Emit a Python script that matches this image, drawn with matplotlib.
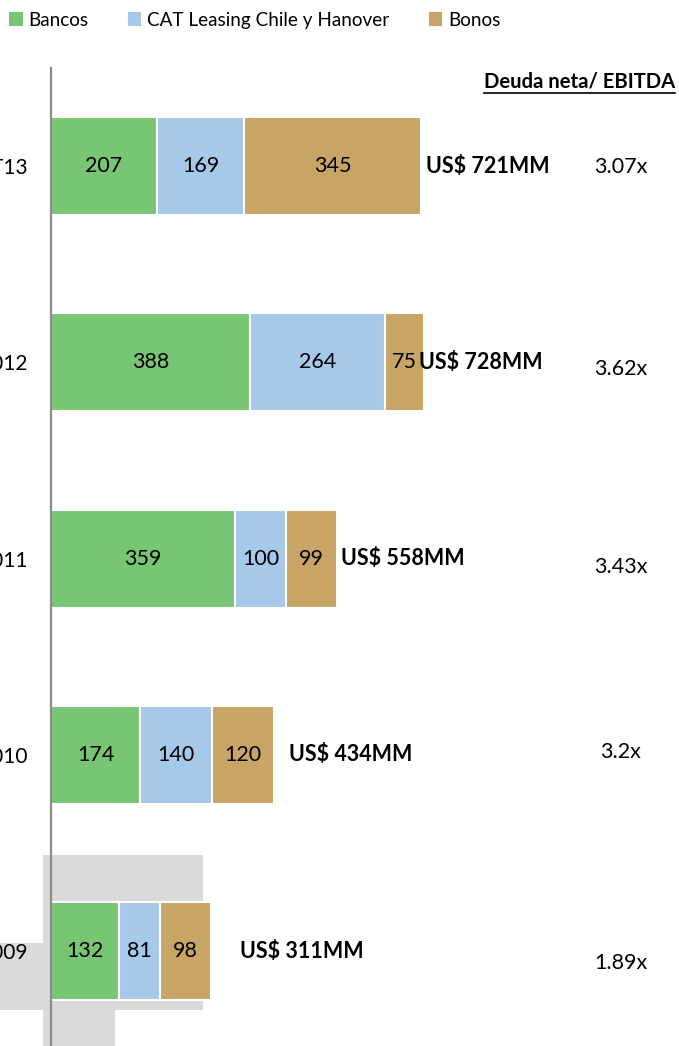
import matplotlib
matplotlib.use("Agg")
from matplotlib import pyplot as plt
from matplotlib.patches import Patch, Polygon
from matplotlib.lines import Line2D

# data (top to bottom)
periods = ["3T13", "2012", "2011", "2010", "2009"]
bancos = [207, 388, 359, 174, 132]
cat_leasing = [169, 264, 100, 140, 81]
bonos = [345, 75, 99, 120, 98]
totals = [721, 728, 558, 434, 311]
deuda_ebitda = ["3.07x", "3.62x", "3.43x", "3.2x", "1.89x"]

series_names = ["Bancos", "CAT Leasing Chile y Hanover", "Bonos"]
colors = ["#78c574", "#a6c9e9", "#c9a467"]

# small layout tweaks (pixels) for the total labels and ratio labels
total_shift = [5, -5, 4, 15, 29]
ratio_shift = [-1, -7, -8, 3, -12]

plt.rcParams['font.family'] = ['Lato', 'DejaVu Sans']

W, H = 679, 1046
fig = plt.figure(figsize=(W / 100, H / 100), dpi=100)
ax = fig.add_axes([51 / W, 0, 1 - 51 / W, 1 - 68 / H])
ax.patch.set_alpha(0)

y = list(range(len(periods)))
left = [0] * len(periods)
for vals, name, col in zip([bancos, cat_leasing, bonos], series_names, colors):
    bars = ax.barh(y, vals, left=left, height=0.5, color=col, edgecolor="white",
                   linewidth=1.5, label=name, zorder=2)
    for b, v in zip(bars, vals):
        ax.text(b.get_x() + b.get_width() / 2, b.get_y() + b.get_height() / 2, str(v),
                ha="center", va="center", fontsize=15.5, color="black", zorder=3)
    left = [l + v for l, v in zip(left, vals)]

ratio_x = (621 - 51) / (W - 51)
for i, tot in enumerate(totals):
    ax.annotate("US$ %dMM" % tot, (tot, i), xytext=(total_shift[i] * 0.72, 0),
                textcoords="offset points", ha="left", va="center",
                fontsize=15.5, fontweight="bold")
    ax.annotate(deuda_ebitda[i], (ratio_x, i), xycoords=("axes fraction", "data"),
                xytext=(0, ratio_shift[i] * 0.72), textcoords="offset points",
                ha="center", va="center", fontsize=15.5)

ax.set_xlim(0, (W - 51) / 0.513)
ax.set_ylim(4.484, -0.5)
ax.set_yticks(y)
ax.set_yticklabels(periods, fontsize=15)
ax.tick_params(axis="y", length=0, pad=17)
ax.set_xticks([])
for s in ["top", "right", "bottom"]:
    ax.spines[s].set_visible(False)
ax.spines["left"].set_color("#8c8c8c")
ax.spines["left"].set_linewidth(1.6)
ax.spines["left"].set_zorder(4)

# grey shadow left behind by the slide around the 2009 bar
pts = [(43, 855), (203, 855), (203, 1010), (115, 1010), (115, 1046), (43, 1046),
       (43, 1010), (0, 1010), (0, 943), (43, 943)]
shadow = Polygon([(px / W, 1 - py / H) for px, py in pts], closed=True,
                 transform=fig.transFigure, facecolor="#dadada", edgecolor="none",
                 zorder=0, clip_on=False)
ax.add_patch(shadow)

# header
hdr = fig.text(675 / W, 1 - 82 / H, "Deuda neta/ EBITDA", ha="right", va="center",
               fontsize=14.6, fontweight="bold")
fig.canvas.draw()
bb = hdr.get_window_extent()
fig.add_artist(Line2D([bb.x0 / W, bb.x1 / W], [(bb.y0 - 1) / H, (bb.y0 - 1) / H],
                      color="black", linewidth=1.2))

handles = [Patch(facecolor=c, edgecolor="none") for c in colors]
fig.legend(handles, series_names, loc="upper left", bbox_to_anchor=(0.0, 0.998),
           ncol=3, frameon=False, fontsize=13.6, handlelength=0.7, handleheight=0.7,
           handletextpad=0.3, columnspacing=2.1, borderaxespad=0.1)

fig.savefig("out.png", dpi=100)
